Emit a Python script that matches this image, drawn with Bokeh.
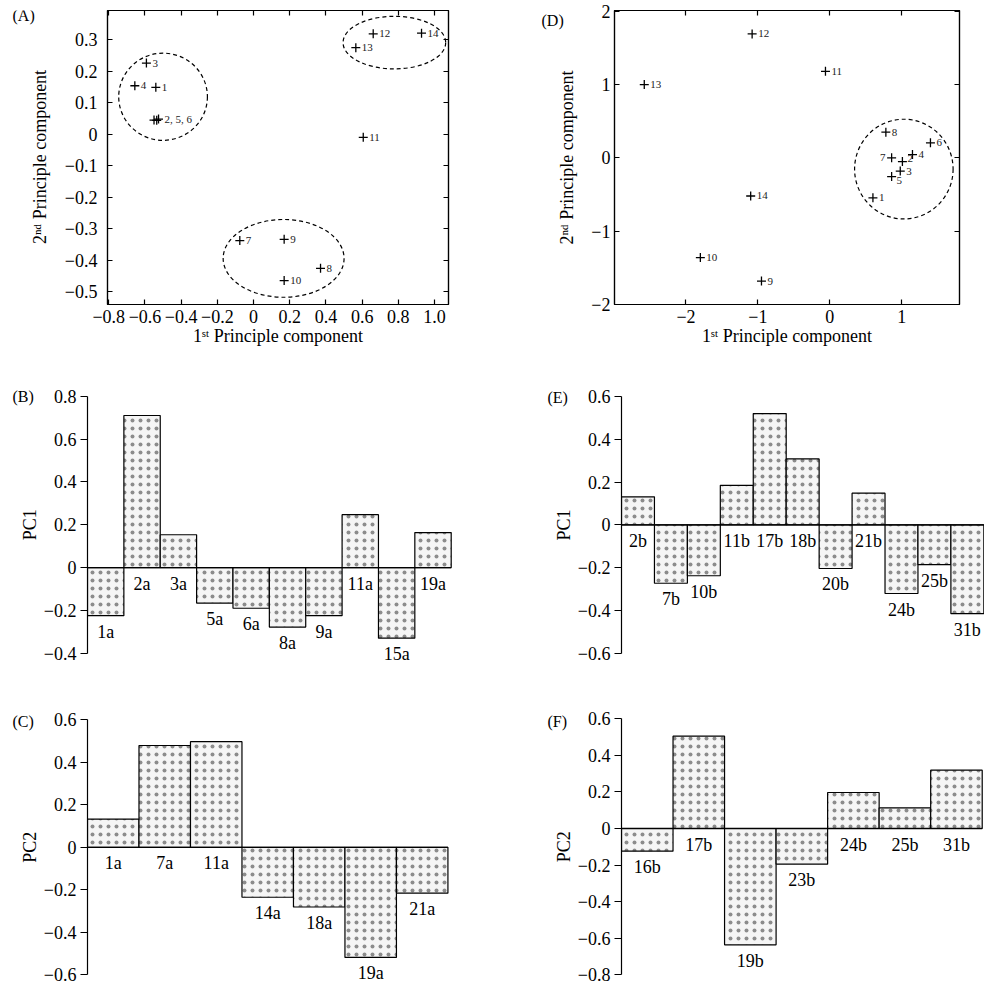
import math
from bokeh.plotting import figure
from bokeh.models import Range1d, FixedTicker, LinearAxis, ColumnDataSource
from bokeh.layouts import column, row
from bokeh.core.properties import value
from bokeh.embed import file_html
from bokeh.resources import INLINE

FONT = "Liberation Serif"

# ---------------- data ----------------
# Panel A: scores on PC1 / PC2
A_TEXT = ["1", "", "3", "4", "", "2, 5, 6", "7", "8", "9", "10", "11", "12", "13", "14"]
A_PC1 = [-0.54, -0.55, -0.592, -0.656, -0.535, -0.525, -0.076, 0.370, 0.169, 0.169, 0.606, 0.661, 0.565, 0.928]
A_PC2 = [0.149, 0.045, 0.226, 0.154, 0.044, 0.048, -0.338, -0.426, -0.334, -0.465, -0.010, 0.319, 0.275, 0.321]
A_XTICKS = [-0.8, -0.6, -0.4, -0.2, 0, 0.2, 0.4, 0.6, 0.8, 1.0]
A_XLABELS = ["\u22120.8", "\u22120.6", "\u22120.4", "\u22120.2", "0", "0.2", "0.4", "0.6", "0.8", "1.0"]
A_YTICKS = [-0.5, -0.4, -0.3, -0.2, -0.1, 0, 0.1, 0.2, 0.3]
A_YLABELS = ["\u22120.5", "\u22120.4", "\u22120.3", "\u22120.2", "\u22120.1", "0", "0.1", "0.2", "0.3"]
# dashed cluster ellipses (centre x, centre y, width, height)
A_ELL_X = [-0.50, 0.778, 0.166]
A_ELL_Y = [0.119, 0.291, -0.3945]
A_ELL_W = [0.49, 0.567, 0.668]
A_ELL_H = [0.277, 0.167, 0.247]

# Panel D
D_TEXT = ["1", "2", "3", "4", "5", "6", "7", "8", "9", "10", "11", "12", "13", "14"]
D_PC1 = [0.60, 1.01, 0.98, 1.15, 0.86, 1.40, 0.86, 0.78, -0.95, -1.80, -0.06, -1.08, -2.58, -1.10]
D_PC2 = [-0.545, -0.05, -0.18, 0.045, -0.255, 0.205, 0.0, 0.35, -1.68, -1.36, 1.18, 1.69, 1.0, -0.52]
D_XTICKS = [-2, -1, 0, 1]
D_XLABELS = ["\u22122", "\u22121", "0", "1"]
D_YTICKS = [-2, -1, 0, 1, 2]
D_YLABELS = ["\u22122", "\u22121", "0", "1", "2"]
D_ELL_X = [1.03]
D_ELL_Y = [-0.153]
D_ELL_W = [1.37]
D_ELL_H = [1.36]

# Panel B (PC1 loadings, a)
B_CATS = ["1a", "2a", "3a", "5a", "6a", "8a", "9a", "11a", "15a", "19a"]
B_VALS = [-0.225, 0.71, 0.153, -0.166, -0.19, -0.278, -0.225, 0.247, -0.33, 0.163]
B_YTICKS = [-0.4, -0.2, 0, 0.2, 0.4, 0.6, 0.8]
B_YLABELS = ["\u22120.4", "\u22120.2", "0", "0.2", "0.4", "0.6", "0.8"]

# Panel C (PC2 loadings, a)
C_CATS = ["1a", "7a", "11a", "14a", "18a", "19a", "21a"]
C_VALS = [0.133, 0.479, 0.497, -0.235, -0.281, -0.518, -0.216]
C_YTICKS = [-0.6, -0.4, -0.2, 0, 0.2, 0.4, 0.6]
C_YLABELS = ["\u22120.6", "\u22120.4", "\u22120.2", "0", "0.2", "0.4", "0.6"]

# Panel E (PC1 loadings, b)
E_CATS = ["2b", "7b", "10b", "11b", "17b", "18b", "20b", "21b", "24b", "25b", "31b"]
E_VALS = [0.131, -0.273, -0.238, 0.185, 0.52, 0.308, -0.204, 0.148, -0.321, -0.186, -0.415]
E_YTICKS = [-0.6, -0.4, -0.2, 0, 0.2, 0.4, 0.6]
E_YLABELS = ["\u22120.6", "\u22120.4", "\u22120.2", "0", "0.2", "0.4", "0.6"]

# Panel F (PC2 loadings, b)
F_CATS = ["16b", "17b", "19b", "23b", "24b", "25b", "31b"]
F_VALS = [-0.124, 0.505, -0.636, -0.195, 0.197, 0.113, 0.319]
F_YTICKS = [-0.8, -0.6, -0.4, -0.2, 0, 0.2, 0.4, 0.6]
F_YLABELS = ["\u22120.8", "\u22120.6", "\u22120.4", "\u22120.2", "0", "0.2", "0.4", "0.6"]

# label offsets (px) for the scatter point labels
A_DX = [6] * 14
A_DY = [0] * 14
D_DX = [6, 5, 6, 6, 5, 6, -6, 6, 6, 6, 6, 6, 6, 6]
D_DY = [0, -3, 0, 0, 4, 0, 0, 0, 0, 0, 0, 0, 0, 0]
D_ALIGN = ["left"] * 6 + ["right"] + ["left"] * 7

X_LABEL = "1\u02e2\u1d57 Principle component"
Y_LABEL = "2\u207f\u1d48 Principle component"

FS = "18px"
HATCH_COLOR = "#8c8c8c"


def style_axis(ax, ticks, labels):
    ax.ticker = FixedTicker(ticks=ticks)
    ax.major_label_overrides = dict(zip(ticks, labels))
    ax.major_label_text_font = FONT
    ax.major_label_text_font_size = FS
    ax.major_label_text_color = "black"
    ax.minor_tick_line_color = None
    ax.axis_line_color = "black"
    ax.axis_line_width = 1.2
    ax.major_tick_line_color = "black"
    ax.major_tick_line_width = 1.2


def gutter(W, H, frame_top, frame_bottom, letter, lx, ly, ytitle, tx, ty):
    """Narrow strip left of a panel holding its letter and its vertical axis title.
    Its frame is aligned with the neighbouring panel's frame, so data y == px from the top."""
    g = figure(width=W, height=H, x_range=Range1d(0, W), y_range=Range1d(frame_bottom, frame_top),
               x_axis_type=None, y_axis_type=None, output_backend="svg", toolbar_location=None,
               min_border_left=0, min_border_right=0, min_border_top=frame_top,
               min_border_bottom=H - frame_bottom)
    g.outline_line_color = None
    g.grid.visible = False
    g.text(x=[lx], y=[ly], text=[letter], text_align="left", text_baseline="top",
           text_font=value(FONT), text_font_size="16px", text_color="black")
    g.text(x=[tx], y=[ty], text=[ytitle], angle=math.pi / 2, text_align="center",
           text_baseline="middle", text_font=value(FONT), text_font_size=FS, text_color="black")
    return g


def scatter_fig(W, H, mbl, mbr, mbt, mbb, xr, yr, px, py, txt, dx, dy, align,
                ex, ey, ew, eh, xt, xl, yt, yl, y_major_standoff):
    p = figure(width=W, height=H, x_range=Range1d(*xr), y_range=Range1d(*yr),
               output_backend="svg", toolbar_location=None,
               min_border_left=mbl, min_border_right=mbr, min_border_top=mbt, min_border_bottom=mbb)
    p.grid.visible = False
    p.outline_line_color = "black"
    p.outline_line_width = 1.2
    style_axis(p.xaxis[0], xt, xl)
    style_axis(p.yaxis[0], yt, yl)
    for ax in (p.xaxis[0], p.yaxis[0]):
        ax.major_tick_in = 5
        ax.major_tick_out = 0
    xa = p.xaxis[0]
    xa.axis_label = X_LABEL
    xa.axis_label_text_font = FONT
    xa.axis_label_text_font_size = FS
    xa.axis_label_text_font_style = "normal"
    xa.axis_label_text_color = "black"
    xa.major_label_standoff = 5
    xa.axis_label_standoff = 0
    p.yaxis[0].major_label_standoff = y_major_standoff
    top = LinearAxis()
    right = LinearAxis()
    style_axis(top, xt, [""] * len(xt))
    style_axis(right, yt, [""] * len(yt))
    for ax in (top, right):
        ax.major_label_text_font_size = "0px"
        ax.major_label_standoff = 0
        ax.major_tick_in = 5
        ax.major_tick_out = 0
    p.add_layout(top, "above")
    p.add_layout(right, "right")

    p.ellipse(x=ex, y=ey, width=ew, height=eh, fill_color=None, line_color="black",
              line_width=1.2, line_dash="4 3")
    src = ColumnDataSource(dict(x=px, y=py, t=txt, dx=dx, dy=dy, al=align))
    p.scatter(x="x", y="y", source=src, marker="cross", size=9, line_color="black", line_width=1.3)
    p.text(x="x", y="y", text="t", source=src, x_offset="dx", y_offset="dy", text_align="al",
           text_baseline="middle", text_font=value(FONT), text_font_size="11px", text_color="#222222")
    return p


def bar_fig(cats, vals, yt, yl, W, H, left, top_px, bot_px, bar_w, mbt, mbb, mbr):
    ppu = (bot_px - top_px) / (yt[-1] - yt[0])
    frame_h = H - mbt - mbb
    y_top = yt[-1] + (top_px - mbt) / ppu
    y_bot = yt[0] - (mbt + frame_h - bot_px) / ppu
    frame_w = W - left - mbr
    x_end = frame_w / bar_w
    p = figure(width=W, height=H, x_range=Range1d(0, x_end), y_range=Range1d(y_bot, y_top),
               x_axis_type=None, output_backend="svg", toolbar_location=None,
               min_border_left=left, min_border_right=mbr, min_border_top=mbt, min_border_bottom=mbb)
    p.grid.visible = False
    p.outline_line_color = None
    ax = p.yaxis[0]
    style_axis(ax, yt, yl)
    ax.bounds = (yt[0], yt[-1])
    ax.major_tick_in = 0
    ax.major_tick_out = 7
    ax.major_label_standoff = 4
    xs = [i + 0.5 for i in range(len(cats))]
    p.vbar(x=xs, top=vals, bottom=0, width=1.0, fill_color="#f5f5f5", line_color="black",
           line_width=1.2, hatch_pattern="dot", hatch_color=HATCH_COLOR, hatch_scale=8,
           hatch_weight=0.1)
    p.segment(x0=[0], y0=[0], x1=[len(cats)], y1=[0], line_color="black", line_width=1.3)
    p.text(x=xs, y=[min(v, 0) for v in vals], text=cats, text_align="center",
           text_baseline="top", y_offset=6, text_font=value(FONT), text_font_size=FS,
           text_color="black")
    return p


# row 1 (height 352, frames from y=10 to y=304)
gA = gutter(56, 352, 10, 304, "(A)", 12, 6, Y_LABEL, 39, 156.5)
pA = scatter_fig(436, 352, 51, 44, 10, 48, (-0.807, 1.077), (-0.541, 0.393),
                 A_PC1, A_PC2, A_TEXT, A_DX, A_DY, ["left"] * 14,
                 A_ELL_X, A_ELL_Y, A_ELL_W, A_ELL_H,
                 A_XTICKS, A_XLABELS, A_YTICKS, A_YLABELS, 10)
gD = gutter(90, 352, 10, 304, "(D)", 49, 11, Y_LABEL, 74, 157)
pD = scatter_fig(402, 352, 32, 25, 10, 48, (-2.994, 1.804), (-2.0, 2.01),
                 D_PC1, D_PC2, D_TEXT, D_DX, D_DY, D_ALIGN,
                 D_ELL_X, D_ELL_Y, D_ELL_W, D_ELL_H,
                 D_XTICKS, D_XLABELS, D_YTICKS, D_YLABELS, 4)

# row 2 (height 318, frames from y=30 to y=318)
gB = gutter(40, 318, 30, 318, "(B)", 12, 35, "PC1", 29.5, 172.2)
pB = bar_fig(B_CATS, B_VALS, B_YTICKS, B_YLABELS, 452, 318, 47, 43.7, 300.7, 36.37, 30, 0, 30)
gE = gutter(82, 318, 30, 318, "(E)", 55, 36, "PC1", 71.5, 172.4)
pE = bar_fig(E_CATS, E_VALS, E_YTICKS, E_YLABELS, 410, 318, 47, 44.0, 300.7, 32.94, 30, 0, 0)

# row 3 (height 314, frames from y=30 to y=314)
gC = gutter(40, 314, 30, 314, "(C)", 12, 42, "PC2", 29.5, 176.8)
pC = bar_fig(C_CATS, C_VALS, C_YTICKS, C_YLABELS, 452, 314, 47, 49.3, 304.3, 51.49, 30, 0, 30)
gF = gutter(82, 314, 30, 314, "(F)", 55, 42, "PC2", 71.5, 176.3)
pF = bar_fig(F_CATS, F_VALS, F_YTICKS, F_YLABELS, 410, 314, 47, 48.3, 304.3, 51.53, 30, 0, 0)

layout = column(row(gA, pA, gD, pD), row(gB, pB, gE, pE), row(gC, pC, gF, pF))

with open("out.html", "w") as f:
    f.write(file_html(layout, INLINE))
